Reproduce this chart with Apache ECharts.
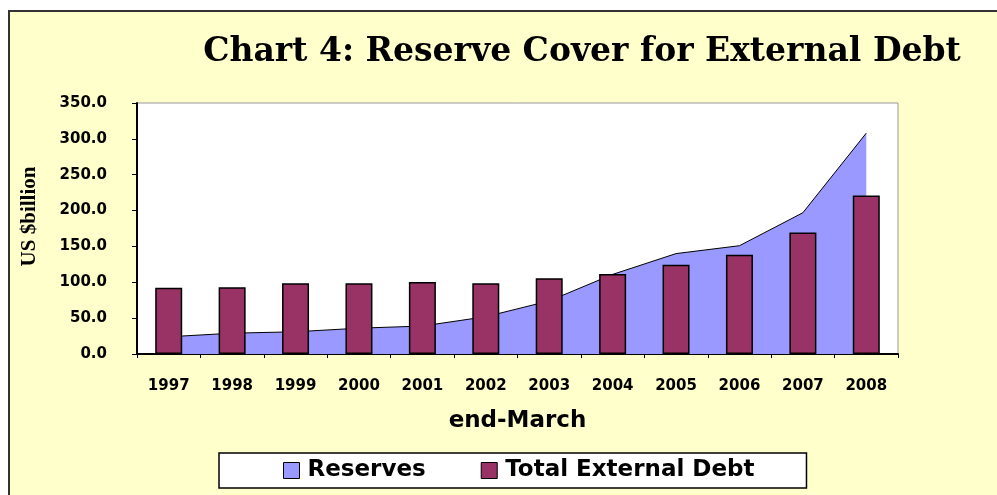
<!DOCTYPE html>
<html>
<head>
<meta charset="utf-8">
<script src="https://cdn.jsdelivr.net/npm/echarts@6/dist/echarts.min.js"></script>
<style>
html,body{margin:0;padding:0;background:#ffffff;}
#chart{width:997px;height:495px;}
</style>
</head>
<body>
<div id="chart"></div>
<script>
const years = ['1997','1998','1999','2000','2001','2002','2003','2004','2005','2006','2007','2008'];
const reserves = [24, 29, 31, 36, 39, 52, 74, 111, 140, 151, 197, 308];
const externalDebt = [92.5, 93, 98.5, 98.5, 100.5, 98.5, 105.5, 111.5, 124.5, 138.5, 169.5, 221];
const yTicks = [0, 50, 100, 150, 200, 250, 300, 350];

const chart = echarts.init(document.getElementById('chart'), null, {renderer: 'canvas'});
chart.setOption({
  animation: false,
  backgroundColor: '#ffffff',
  graphic: [{
    type: 'rect', z: -100, silent: true,
    shape: {x: 9, y: 11, width: 1000, height: 500},
    style: {fill: '#FFFFCC', stroke: '#333333', lineWidth: 2}
  }],
  title: {
    text: 'Chart 4: Reserve Cover for External Debt',
    left: 577, top: 31, textAlign: 'center',
    textStyle: {fontFamily: 'DejaVu Serif', fontWeight: 'bold', fontSize: 33, color: '#000'}
  },
  legend: {
    left: 219, top: 453,
    padding: [6, 52, 6, 64],
    backgroundColor: '#ffffff', borderColor: '#000', borderWidth: 1.5,
    itemWidth: 16, itemHeight: 16, itemGap: 55,
    icon: 'rect',
    itemStyle: {borderColor: '#000', borderWidth: 1},
    textStyle: {fontFamily: 'DejaVu Sans', fontWeight: 'bold', fontSize: 23, color: '#000', padding: [0, 0, 0, 3]},
    data: ['Reserves', 'Total External Debt']
  },
  grid: {
    left: 137, top: 103, right: 99, bottom: 141,
    show: true, backgroundColor: '#ffffff', borderColor: '#999999', borderWidth: 1
  },
  xAxis: {
    type: 'category', data: years, boundaryGap: true,
    name: 'end-March', nameLocation: 'middle', nameGap: 56, nameMoveOverlap: false,
    nameTextStyle: {fontFamily: 'DejaVu Sans', fontWeight: 'bold', fontSize: 23, color: '#000'},
    axisLine: {lineStyle: {color: '#000', width: 2}},
    axisTick: {show: true, length: 4, alignWithLabel: false, lineStyle: {color: '#000'}},
    axisLabel: {margin: 25, fontFamily: 'DejaVu Sans', fontWeight: 'bold', fontSize: 15, color: '#000'}
  },
  yAxis: {
    type: 'value', min: 0, max: 350, interval: 50,
    name: 'US $billion', nameLocation: 'middle', nameGap: 97, nameMoveOverlap: false,
    nameTextStyle: {fontFamily: 'Liberation Serif', fontWeight: 'bold', fontSize: 21, color: '#000', padding: [0, 0, 0, 24]},
    axisLine: {show: true, lineStyle: {color: '#000', width: 2}},
    axisTick: {show: true, length: 5, lineStyle: {color: '#000'}},
    splitLine: {show: false},
    axisLabel: {
      margin: 8, padding: [0, 22, 0, 0],
      fontFamily: 'DejaVu Sans', fontWeight: 'bold', fontSize: 15, color: '#000',
      formatter: function (v) { return yTicks.indexOf(v) >= 0 ? v.toFixed(1) : ''; }
    }
  },
  series: [
    {
      name: 'Reserves', type: 'line', data: reserves, z: 1,
      symbol: 'none',
      lineStyle: {color: '#000', width: 1},
      itemStyle: {color: '#9999FF', borderColor: '#000', borderWidth: 1},
      areaStyle: {color: '#9999FF', opacity: 1}
    },
    {
      name: 'Total External Debt', type: 'bar', data: externalDebt, z: 5,
      barWidth: 27,
      itemStyle: {color: '#993366', borderColor: '#000', borderWidth: 1.5}
    }
  ]
});
</script>
</body>
</html>
